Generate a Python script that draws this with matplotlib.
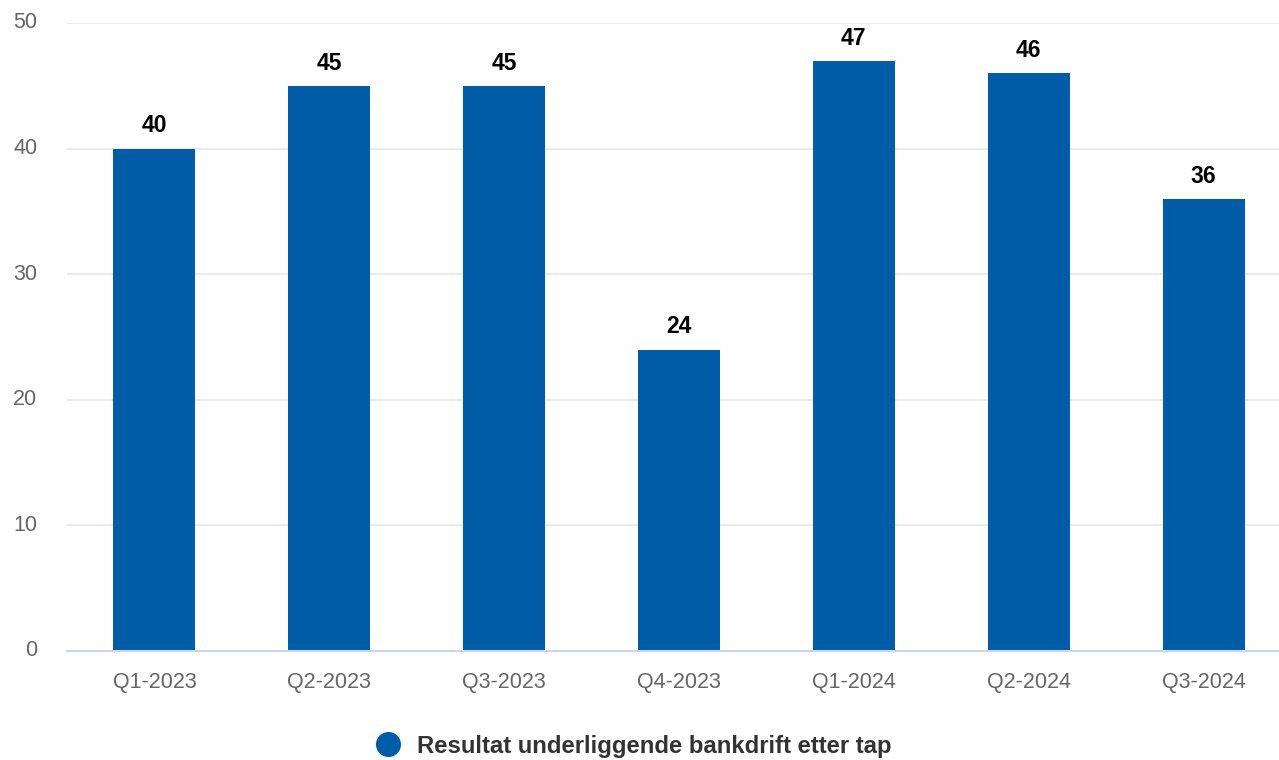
import matplotlib.pyplot as plt
from matplotlib.lines import Line2D

plt.rcParams['font.family'] = ['Liberation Sans', 'DejaVu Sans']

quarters = ['Q1-2023', 'Q2-2023', 'Q3-2023', 'Q4-2023', 'Q1-2024', 'Q2-2024', 'Q3-2024']
values = [40, 45, 45, 24, 47, 46, 36]
series_name = 'Resultat underliggende bankdrift etter tap'

bar_color = '#005ca6'

fig = plt.figure(figsize=(12.79, 7.6), dpi=100)
# category band runs a little past the right edge, as in the source chart
ax = fig.add_axes([67 / 1279, 109 / 760, 1224 / 1279, 628 / 760])

x = range(len(quarters))
ax.bar(x, values, width=0.469, color=bar_color, zorder=3)

for xi, v in zip(x, values):
    ax.annotate(str(v), (xi, v), xytext=(0, 8), textcoords='offset points',
                ha='center', va='bottom', fontsize=16.5, fontweight='bold', color='black')

ax.set_xlim(-0.5, len(quarters) - 0.5)
ax.set_ylim(0, 50)
ax.set_yticks([0, 10, 20, 30, 40, 50])
ax.set_xticks(list(x))
ax.set_xticklabels(quarters)

ax.grid(axis='y', color='#e6e6e6', linewidth=1.2, zorder=0)
for side in ['top', 'right', 'left']:
    ax.spines[side].set_visible(False)
ax.spines['bottom'].set_color('#ccd6eb')
ax.spines['bottom'].set_linewidth(1.5)
ax.spines['bottom'].set_zorder(4)

ax.tick_params(axis='both', length=0, labelsize=15.5, labelcolor='#666666')
ax.tick_params(axis='y', pad=21.5)
ax.tick_params(axis='x', pad=15)
for lbl in ax.get_yticklabels():
    lbl.set_verticalalignment('center')

handle = Line2D([], [], marker='o', linestyle='none', markersize=17,
                markerfacecolor=bar_color, markeredgecolor=bar_color)
leg = fig.legend([handle], [series_name], loc='center', bbox_to_anchor=(628 / 1279, 14 / 760),
                 frameon=False, handletextpad=0.2, prop={'size': 17.2, 'weight': 'bold'})
for t in leg.get_texts():
    t.set_color('#333333')

fig.savefig('out.png', dpi=100)
